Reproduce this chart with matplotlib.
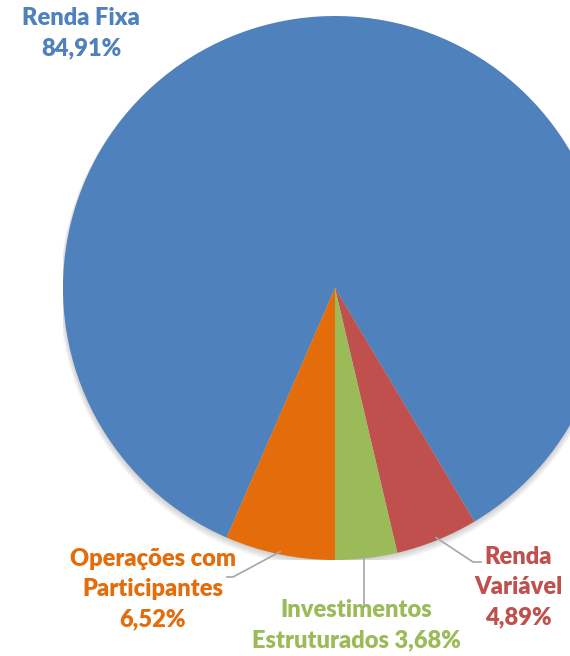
import numpy as np
import matplotlib
matplotlib.use("Agg")
import matplotlib.pyplot as plt
from matplotlib.patches import Circle

# data (clockwise from the left edge of the orange slice)
categories = ["Renda Fixa", "Renda Variável", "Investimentos Estruturados", "Operações com Participantes"]
values = [84.91, 4.89, 3.68, 6.52]
colors = ["#4F81BD", "#C0504D", "#9BBB59", "#E46C0A"]
label_texts = ["Renda Fixa\n84,91%", "Renda\nVariável\n4,89%",
               "Investimentos\nEstruturados 3,68%", "Operações com\nParticipantes\n6,52%"]

W, H = 570, 656
fig = plt.figure(figsize=(W / 100, H / 100), dpi=100)
fig.patch.set_facecolor("white")

# pie centre and radius in pixels
cx, cy, r = 335, 288, 272
ax = fig.add_axes([(cx - r) / W, 1 - (cy + r) / H, 2 * r / W, 2 * r / H])

def px(x, y):
    """pixel position -> data coords of the pie axes"""
    return (x - cx) / r, (cy - y) / r

# soft shadow
for i in range(4):
    ax.add_patch(Circle((0.0, -0.004 * (i + 1)), 1.0 + 0.004 * i, color="black",
                        alpha=0.05, lw=0, zorder=0))

start = 270 - 360 * values[-1] / sum(values)
wedges, _ = ax.pie(values, colors=colors, startangle=start, counterclock=False,
                   radius=1.0, wedgeprops=dict(linewidth=0), center=(0, 0), frame=True)
ax.set_xlim(-1, 1)
ax.set_ylim(-1, 1)
ax.axis("off")
for w in wedges:
    w.set_zorder(2)

font = "Lato"
fs = 17
txt_pos = [(81, 33), (518, 587), (356, 625), (153, 589)]
for i, (t, (x, y)) in enumerate(zip(label_texts, txt_pos)):
    fig.text(x / W, 1 - y / H, t, ha="center", va="center", color=colors[i],
             fontsize=fs, fontweight="heavy", family=font, linespacing=1.45)

# leader lines
line_ends = {1: [(473, 562), (481, 562)], 2: [(364, 607)], 3: [(233, 577), (227, 577)]}
for i, pts in line_ends.items():
    w = wedges[i]
    mid = np.deg2rad((w.theta1 + w.theta2) / 2)
    xs = [0.99 * np.cos(mid)] + [px(*p)[0] for p in pts]
    ys = [0.99 * np.sin(mid)] + [px(*p)[1] for p in pts]
    if i == 2:
        xs = [px(*pts[0])[0]] * 2
    ax.plot(xs, ys, color="#A6A6A6", lw=1.2, clip_on=False, zorder=3)

fig.savefig("out.png", dpi=100)
